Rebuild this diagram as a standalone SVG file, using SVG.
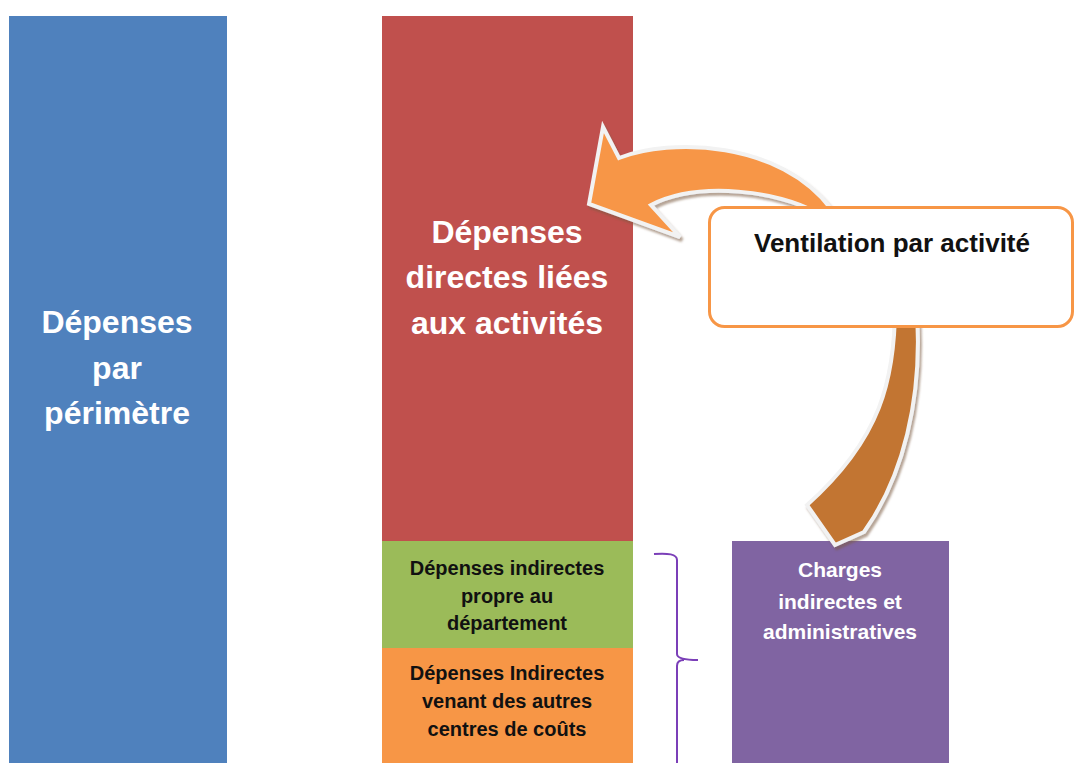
<svg xmlns="http://www.w3.org/2000/svg" width="1075" height="763" viewBox="0 0 1075 763">
<style>
.big{font-family:"Liberation Sans",Arial,sans-serif;font-weight:bold;font-size:32px;fill:#ffffff;text-anchor:middle}
.mid{font-family:"Liberation Sans",Arial,sans-serif;font-weight:bold;font-size:20px;fill:#111111;text-anchor:middle}
.wmid{font-family:"Liberation Sans",Arial,sans-serif;font-weight:bold;font-size:21px;fill:#ffffff;text-anchor:middle}
.call{font-family:"Liberation Sans",Arial,sans-serif;font-weight:bold;font-size:26px;fill:#111111;text-anchor:middle}
.arrow{stroke:#f2f2f2;stroke-width:4;stroke-linejoin:miter}
</style>
<defs>
<filter id="sh" x="-10%" y="-10%" width="130%" height="130%">
<feDropShadow dx="2" dy="3" stdDeviation="1.2" flood-color="#7a5a40" flood-opacity="0.55"/>
</filter>
</defs>
<rect width="1075" height="763" fill="#ffffff"/>
<g id="perimetre">
<rect x="9" y="16" width="218" height="747" fill="#4f81bd"/>
<text class="big"><tspan x="117" y="333">Dépenses</tspan><tspan x="117" y="379">par</tspan><tspan x="117" y="424">périmètre</tspan></text>
</g>
<g id="directes">
<rect x="382" y="16" width="251" height="525" fill="#c0504d"/>
<text class="big"><tspan x="507" y="243">Dépenses</tspan><tspan x="507" y="288">directes liées</tspan><tspan x="507" y="334">aux activités</tspan></text>
</g>
<g id="indirectes-propres">
<rect x="382" y="541" width="251" height="107" fill="#9bbb59"/>
<text class="mid"><tspan x="507" y="575">Dépenses indirectes</tspan><tspan x="507" y="603">propre au</tspan><tspan x="507" y="630">département</tspan></text>
</g>
<g id="indirectes-autres">
<rect x="382" y="648" width="251" height="115" fill="#f79646"/>
<text class="mid"><tspan x="507" y="680">Dépenses Indirectes</tspan><tspan x="507" y="708">venant des autres</tspan><tspan x="507" y="736">centres de coûts</tspan></text>
</g>
<g id="charges">
<rect x="732" y="541" width="217" height="222" fill="#8064a2"/>
<text class="wmid"><tspan x="840" y="577">Charges</tspan><tspan x="840" y="609">indirectes et</tspan><tspan x="840" y="639">administratives</tspan></text>
</g>
<g id="connectors">
<path class="arrow" filter="url(#sh)" fill="#c27532" d="M895,300 C896,380 880,440 807,505 L835,545 L864,532 C901,480 925,400 916,300 Z"/>
<path class="arrow" filter="url(#sh)" fill="#f79646" d="M589,204 L603,127 L619,158 C670,138 780,140 832,210 L850,250 L820,250 L815,212 C780,192 700,180 651,205 L680,237 Z"/>
<path fill="none" stroke="#7b3fb8" stroke-width="2" d="M654,554 C668,553 677,554 677,560 L677,654 Q677,660 698,660 M677,763 L677,666 Q677,660 684,660"/>
</g>
<g id="ventilation">
<rect x="709.5" y="207.5" width="363" height="119" rx="15" fill="#ffffff" stroke="#f79646" stroke-width="3"/>
<text class="call" x="892" y="252">Ventilation par activité</text>
</g>
</svg>
